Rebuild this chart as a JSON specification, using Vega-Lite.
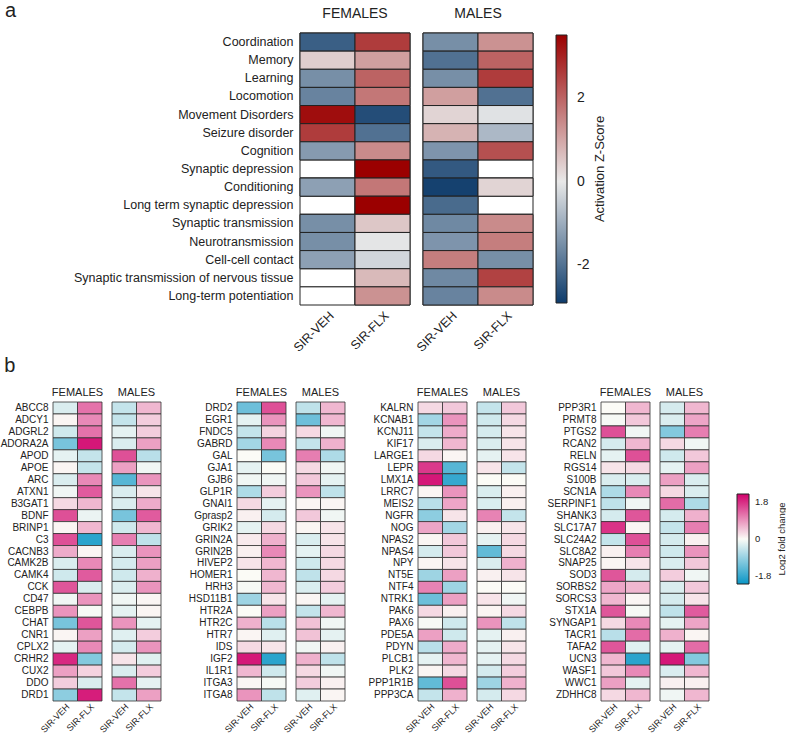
{
  "$schema": "https://vega.github.io/schema/vega-lite/v6.json",
  "padding": {"left": 0, "top": 0, "right": 0, "bottom": 0},
  "config": {
    "font": "Liberation Sans",
    "view": {"stroke": null},
    "axis": {"domain": false, "ticks": false, "grid": false, "labelColor": "#222"},
    "title": {"color": "#222", "fontWeight": "normal"},
    "legend": {"labelColor": "#222", "titleColor": "#222"}
  },
  "datasets": {
    "fn": [
      {"fn": "Coordination", "fVEH": -2.3, "fFLX": 2.6, "mVEH": -1.5, "mFLX": 1.3},
      {"fn": "Memory", "fVEH": 0.4, "fFLX": 1.1, "mVEH": -2.0, "mFLX": 2.0},
      {"fn": "Learning", "fVEH": -1.5, "fFLX": 2.0, "mVEH": -1.5, "mFLX": 2.6},
      {"fn": "Locomotion", "fVEH": -1.7, "fFLX": 1.7, "mVEH": 1.1, "mFLX": -2.0},
      {"fn": "Movement Disorders", "fVEH": 3.3, "fFLX": -2.6, "mVEH": 0.3, "mFLX": -0.1},
      {"fn": "Seizure disorder", "fVEH": 2.6, "fFLX": -2.0, "mVEH": 0.8, "mFLX": -0.8},
      {"fn": "Cognition", "fVEH": -1.3, "fFLX": 1.4, "mVEH": -1.4, "mFLX": 2.3},
      {"fn": "Synaptic depression", "fVEH": null, "fFLX": 3.5, "mVEH": -2.4, "mFLX": null},
      {"fn": "Conditioning", "fVEH": -1.2, "fFLX": 1.7, "mVEH": -2.8, "mFLX": 0.3},
      {"fn": "Long term synaptic depression", "fVEH": null, "fFLX": 3.5, "mVEH": -2.1, "mFLX": null},
      {"fn": "Synaptic transmission", "fVEH": -1.5, "fFLX": 0.5, "mVEH": -1.6, "mFLX": 1.4},
      {"fn": "Neurotransmission", "fVEH": -1.5, "fFLX": -0.05, "mVEH": -1.4, "mFLX": 1.6},
      {"fn": "Cell-cell contact", "fVEH": -1.2, "fFLX": -0.3, "mVEH": 1.6, "mFLX": -1.5},
      {"fn": "Synaptic transmission of nervous tissue", "fVEH": null, "fFLX": 0.7, "mVEH": -1.6, "mFLX": 2.5},
      {"fn": "Long-term potentiation", "fVEH": null, "fFLX": 1.3, "mVEH": -1.7, "mFLX": 1.4}
    ],
    "genes": [
      {"gene": "ABCC8", "blk": 1, "fVEH": -0.3, "fFLX": 1.2, "mVEH": -0.5, "mFLX": 0.6},
      {"gene": "ADCY1", "blk": 1, "fVEH": 0.05, "fFLX": 1.0, "mVEH": -0.5, "mFLX": 0.4},
      {"gene": "ADGRL2", "blk": 1, "fVEH": -0.4, "fFLX": 1.2, "mVEH": -0.2, "mFLX": 0.4},
      {"gene": "ADORA2A", "blk": 1, "fVEH": -1.2, "fFLX": 2.0, "mVEH": -0.3, "mFLX": 0.8},
      {"gene": "APOD", "blk": 1, "fVEH": -0.2, "fFLX": -0.5, "mVEH": 1.5, "mFLX": -0.6},
      {"gene": "APOE", "blk": 1, "fVEH": 0.05, "fFLX": -0.5, "mVEH": 0.8, "mFLX": -0.1},
      {"gene": "ARC", "blk": 1, "fVEH": -0.3, "fFLX": 1.0, "mVEH": -1.5, "mFLX": 0.9},
      {"gene": "ATXN1", "blk": 1, "fVEH": -0.1, "fFLX": 1.4, "mVEH": -0.3, "mFLX": 0.2},
      {"gene": "B3GAT1", "blk": 1, "fVEH": 0.3, "fFLX": 0.6, "mVEH": -0.3, "mFLX": 0.7},
      {"gene": "BDNF", "blk": 1, "fVEH": 1.5, "fFLX": -0.15, "mVEH": -1.2, "mFLX": 1.4},
      {"gene": "BRINP1", "blk": 1, "fVEH": 0.05, "fFLX": 0.6, "mVEH": -0.4, "mFLX": 0.6},
      {"gene": "C3", "blk": 1, "fVEH": 1.5, "fFLX": -1.9, "mVEH": 1.1, "mFLX": -0.55},
      {"gene": "CACNB3", "blk": 1, "fVEH": 0.7, "fFLX": 0.05, "mVEH": -0.3, "mFLX": 0.9},
      {"gene": "CAMK2B", "blk": 1, "fVEH": -0.3, "fFLX": 1.0, "mVEH": -0.35, "mFLX": 0.8},
      {"gene": "CAMK4", "blk": 1, "fVEH": -0.4, "fFLX": 1.4, "mVEH": -0.4, "mFLX": 0.65},
      {"gene": "CCK", "blk": 1, "fVEH": 1.45, "fFLX": -0.3, "mVEH": -0.3, "mFLX": 0.9},
      {"gene": "CD47", "blk": 1, "fVEH": -0.1, "fFLX": 0.9, "mVEH": -0.1, "mFLX": 0.05},
      {"gene": "CEBPB", "blk": 1, "fVEH": 0.9, "fFLX": -0.05, "mVEH": -0.2, "mFLX": 0.05},
      {"gene": "CHAT", "blk": 1, "fVEH": -1.2, "fFLX": 1.45, "mVEH": 0.9, "mFLX": -0.2},
      {"gene": "CNR1", "blk": 1, "fVEH": 0.05, "fFLX": 0.8, "mVEH": -0.25, "mFLX": 0.4},
      {"gene": "CPLX2", "blk": 1, "fVEH": -0.2, "fFLX": 1.0, "mVEH": -0.35, "mFLX": 0.9},
      {"gene": "CRHR2", "blk": 1, "fVEH": 1.85, "fFLX": -1.1, "mVEH": 0.2, "mFLX": -0.25},
      {"gene": "CUX2", "blk": 1, "fVEH": 0.8, "fFLX": 0.35, "mVEH": -0.3, "mFLX": 0.4},
      {"gene": "DDO", "blk": 1, "fVEH": 0.4, "fFLX": -0.3, "mVEH": 1.2, "mFLX": -0.2},
      {"gene": "DRD1", "blk": 1, "fVEH": -1.0, "fFLX": 1.95, "mVEH": -0.5, "mFLX": 0.8},
      {"gene": "DRD2", "blk": 2, "fVEH": -1.3, "fFLX": 1.5, "mVEH": -0.55, "mFLX": 0.6},
      {"gene": "EGR1", "blk": 2, "fVEH": -0.2, "fFLX": 0.9, "mVEH": -1.3, "mFLX": 0.6},
      {"gene": "FNDC5", "blk": 2, "fVEH": -0.5, "fFLX": 0.35, "mVEH": 0.3, "mFLX": -0.1},
      {"gene": "GABRD", "blk": 2, "fVEH": -0.8, "fFLX": 1.0, "mVEH": -0.5, "mFLX": 0.65},
      {"gene": "GAL", "blk": 2, "fVEH": 0.0, "fFLX": -1.2, "mVEH": 1.1, "mFLX": -0.7},
      {"gene": "GJA1", "blk": 2, "fVEH": -0.2, "fFLX": 0.0, "mVEH": 0.3, "mFLX": -0.1},
      {"gene": "GJB6", "blk": 2, "fVEH": -0.1, "fFLX": -0.1, "mVEH": 0.45, "mFLX": -0.2},
      {"gene": "GLP1R", "blk": 2, "fVEH": -0.7, "fFLX": 0.4, "mVEH": 0.9, "mFLX": -0.55},
      {"gene": "GNAI1", "blk": 2, "fVEH": 0.3, "fFLX": -0.2, "mVEH": 0.05, "mFLX": 0.05},
      {"gene": "Gprasp2", "blk": 2, "fVEH": 0.1, "fFLX": -0.35, "mVEH": 0.45, "mFLX": -0.1},
      {"gene": "GRIK2", "blk": 2, "fVEH": -0.2, "fFLX": 0.3, "mVEH": 0.05, "mFLX": 0.2},
      {"gene": "GRIN2A", "blk": 2, "fVEH": 0.15, "fFLX": 0.65, "mVEH": -0.3, "mFLX": 0.2},
      {"gene": "GRIN2B", "blk": 2, "fVEH": 0.1, "fFLX": 1.0, "mVEH": -0.2, "mFLX": 0.3},
      {"gene": "HIVEP2", "blk": 2, "fVEH": 0.2, "fFLX": 0.6, "mVEH": -0.4, "mFLX": 0.3},
      {"gene": "HOMER1", "blk": 2, "fVEH": 0.0, "fFLX": 0.6, "mVEH": -0.55, "mFLX": 0.3},
      {"gene": "HRH3", "blk": 2, "fVEH": -0.05, "fFLX": 0.6, "mVEH": -0.3, "mFLX": 0.4},
      {"gene": "HSD11B1", "blk": 2, "fVEH": -0.85, "fFLX": 0.2, "mVEH": 0.05, "mFLX": -0.2},
      {"gene": "HTR2A", "blk": 2, "fVEH": 0.0, "fFLX": 0.8, "mVEH": -0.5, "mFLX": 0.6},
      {"gene": "HTR2C", "blk": 2, "fVEH": 0.65, "fFLX": -0.6, "mVEH": 0.5, "mFLX": -0.1},
      {"gene": "HTR7", "blk": 2, "fVEH": 0.05, "fFLX": -0.25, "mVEH": 0.5, "mFLX": -0.2},
      {"gene": "IDS", "blk": 2, "fVEH": 0.3, "fFLX": 0.2, "mVEH": -0.1, "mFLX": 0.1},
      {"gene": "IGF2", "blk": 2, "fVEH": 2.0, "fFLX": -1.9, "mVEH": 0.65, "mFLX": -0.55},
      {"gene": "IL1R1", "blk": 2, "fVEH": 0.6, "fFLX": -0.4, "mVEH": 0.3, "mFLX": -0.1},
      {"gene": "ITGA3", "blk": 2, "fVEH": 0.05, "fFLX": -0.05, "mVEH": 0.4, "mFLX": 0.1},
      {"gene": "ITGA8", "blk": 2, "fVEH": 0.9, "fFLX": -0.55, "mVEH": -0.25, "mFLX": 0.05},
      {"gene": "KALRN", "blk": 3, "fVEH": 0.3, "fFLX": 0.45, "mVEH": -0.5, "mFLX": 0.45},
      {"gene": "KCNAB1", "blk": 3, "fVEH": -0.8, "fFLX": 0.9, "mVEH": -0.4, "mFLX": 0.3},
      {"gene": "KCNJ11", "blk": 3, "fVEH": -0.5, "fFLX": 0.7, "mVEH": -0.35, "mFLX": 0.2},
      {"gene": "KIF17", "blk": 3, "fVEH": -0.3, "fFLX": 0.6, "mVEH": -0.3, "mFLX": 0.2},
      {"gene": "LARGE1", "blk": 3, "fVEH": 0.3, "fFLX": 0.05, "mVEH": -0.2, "mFLX": 0.2},
      {"gene": "LEPR", "blk": 3, "fVEH": 1.7, "fFLX": -1.5, "mVEH": 0.2, "mFLX": -0.5},
      {"gene": "LMX1A", "blk": 3, "fVEH": 2.0, "fFLX": -1.8, "mVEH": 0.0, "mFLX": 0.0},
      {"gene": "LRRC7", "blk": 3, "fVEH": 0.05, "fFLX": 0.9, "mVEH": -0.3, "mFLX": 0.1},
      {"gene": "MEIS2", "blk": 3, "fVEH": -0.6, "fFLX": 0.75, "mVEH": -0.3, "mFLX": 0.1},
      {"gene": "NGFR", "blk": 3, "fVEH": -1.0, "fFLX": 0.2, "mVEH": 1.05, "mFLX": -0.5},
      {"gene": "NOG", "blk": 3, "fVEH": 0.75, "fFLX": -0.8, "mVEH": 0.1, "mFLX": 0.2},
      {"gene": "NPAS2", "blk": 3, "fVEH": 0.05, "fFLX": 0.45, "mVEH": -0.2, "mFLX": 0.3},
      {"gene": "NPAS4", "blk": 3, "fVEH": -0.35, "fFLX": 0.45, "mVEH": -1.4, "mFLX": 0.3},
      {"gene": "NPY", "blk": 3, "fVEH": 0.05, "fFLX": 0.2, "mVEH": -0.3, "mFLX": 0.65},
      {"gene": "NT5E", "blk": 3, "fVEH": -0.85, "fFLX": 0.8, "mVEH": 0.1, "mFLX": 0.2},
      {"gene": "NTF4", "blk": 3, "fVEH": 1.05, "fFLX": -0.85, "mVEH": 0.0, "mFLX": 0.0},
      {"gene": "NTRK1", "blk": 3, "fVEH": -1.3, "fFLX": 0.8, "mVEH": 0.2, "mFLX": -0.1},
      {"gene": "PAK6", "blk": 3, "fVEH": 0.3, "fFLX": 0.1, "mVEH": 0.05, "mFLX": 0.3},
      {"gene": "PAX6", "blk": 3, "fVEH": -0.05, "fFLX": -0.4, "mVEH": 0.9, "mFLX": -0.55},
      {"gene": "PDE5A", "blk": 3, "fVEH": 0.8, "fFLX": -0.4, "mVEH": -0.2, "mFLX": 0.1},
      {"gene": "PDYN", "blk": 3, "fVEH": -0.6, "fFLX": 0.7, "mVEH": -0.2, "mFLX": 0.2},
      {"gene": "PLCB1", "blk": 3, "fVEH": -0.2, "fFLX": 0.6, "mVEH": -0.2, "mFLX": 0.3},
      {"gene": "PLK2", "blk": 3, "fVEH": 0.05, "fFLX": 0.3, "mVEH": -0.35, "mFLX": 0.4},
      {"gene": "PPP1R1B", "blk": 3, "fVEH": -1.4, "fFLX": 1.5, "mVEH": -0.85, "mFLX": 0.65},
      {"gene": "PPP3CA", "blk": 3, "fVEH": -0.5, "fFLX": 0.65, "mVEH": -0.35, "mFLX": 0.3},
      {"gene": "PPP3R1", "blk": 4, "fVEH": 0.0, "fFLX": 0.6, "mVEH": -0.35, "mFLX": 0.6},
      {"gene": "PRMT8", "blk": 4, "fVEH": -0.05, "fFLX": 0.45, "mVEH": -0.3, "mFLX": 0.75},
      {"gene": "PTGS2", "blk": 4, "fVEH": 1.5, "fFLX": -0.1, "mVEH": -1.1, "mFLX": 1.1},
      {"gene": "RCAN2", "blk": 4, "fVEH": -0.35, "fFLX": 0.6, "mVEH": 0.3, "mFLX": -0.1},
      {"gene": "RELN", "blk": 4, "fVEH": -0.2, "fFLX": 1.5, "mVEH": -0.4, "mFLX": 0.45},
      {"gene": "RGS14", "blk": 4, "fVEH": 0.2, "fFLX": 0.3, "mVEH": -0.2, "mFLX": 0.8},
      {"gene": "S100B", "blk": 4, "fVEH": -0.3, "fFLX": -0.3, "mVEH": 0.8, "mFLX": -0.3},
      {"gene": "SCN1A", "blk": 4, "fVEH": -0.7, "fFLX": 1.0, "mVEH": 0.3, "mFLX": -0.3},
      {"gene": "SERPINF1", "blk": 4, "fVEH": -0.55, "fFLX": -0.1, "mVEH": 1.25, "mFLX": -0.7},
      {"gene": "SHANK3", "blk": 4, "fVEH": -0.35, "fFLX": 1.45, "mVEH": -0.35, "mFLX": 0.65},
      {"gene": "SLC17A7", "blk": 4, "fVEH": 1.75, "fFLX": 0.05, "mVEH": -0.5, "mFLX": 1.1},
      {"gene": "SLC24A2", "blk": 4, "fVEH": -0.5, "fFLX": 1.5, "mVEH": -0.35, "mFLX": 0.1},
      {"gene": "SLC8A2", "blk": 4, "fVEH": 0.1, "fFLX": 1.1, "mVEH": -0.4, "mFLX": 0.9},
      {"gene": "SNAP25", "blk": 4, "fVEH": 0.05, "fFLX": 0.2, "mVEH": -0.3, "mFLX": 0.45},
      {"gene": "SOD3", "blk": 4, "fVEH": 1.45, "fFLX": -0.35, "mVEH": 0.4, "mFLX": -0.1},
      {"gene": "SORBS2", "blk": 4, "fVEH": 0.75, "fFLX": 0.6, "mVEH": -0.3, "mFLX": 0.45},
      {"gene": "SORCS3", "blk": 4, "fVEH": 0.6, "fFLX": 0.05, "mVEH": -0.35, "mFLX": 0.2},
      {"gene": "STX1A", "blk": 4, "fVEH": 1.45, "fFLX": -0.05, "mVEH": -0.55, "mFLX": 1.4},
      {"gene": "SYNGAP1", "blk": 4, "fVEH": 0.3, "fFLX": 1.0, "mVEH": -0.2, "mFLX": 0.75},
      {"gene": "TACR1", "blk": 4, "fVEH": -0.6, "fFLX": 1.25, "mVEH": 0.65, "mFLX": 0.05},
      {"gene": "TAFA2", "blk": 4, "fVEH": 1.45, "fFLX": -0.25, "mVEH": -0.2, "mFLX": 1.25},
      {"gene": "UCN3", "blk": 4, "fVEH": 0.6, "fFLX": -1.9, "mVEH": 2.0, "mFLX": -1.1},
      {"gene": "WASF1", "blk": 4, "fVEH": 0.45, "fFLX": 1.0, "mVEH": -0.3, "mFLX": 0.6},
      {"gene": "WWC1", "blk": 4, "fVEH": 0.8, "fFLX": -0.2, "mVEH": 0.1, "mFLX": 0.1},
      {"gene": "ZDHHC8", "blk": 4, "fVEH": 0.3, "fFLX": 0.6, "mVEH": -0.1, "mFLX": 0.6}
    ]
  },
  "resolve": {"scale": {"color": "independent"}},
  "spacing": 1,
  "align": "none",
  "vconcat": [
    {
      "title": {"text": "a", "anchor": "start", "frame": "group", "fontSize": 20, "offset": -14, "dx": -48},
      "bounds": "flush",
      "spacing": 13,
      "hconcat": [
        {"width": 234, "height": 272, "data": {"values": []}, "mark": "rect", "encoding": {}},
        {
          "title": {"text": "FEMALES", "fontSize": 14, "offset": 12},
          "width": 110, "height": 272,
          "data": {"name": "fn"},
          "transform": [{"fold": ["fVEH", "fFLX"], "as": ["cond", "z"]}],
          "encoding": {
            "x": {"field": "cond", "type": "nominal", "sort": ["fVEH", "fFLX"], "axis": {"title": null, "labelAngle": -45, "labelFontSize": 12.5, "labelPadding": 4, "labelExpr": "indexof(datum.label, 'VEH') >= 0 ? 'SIR-VEH' : 'SIR-FLX'"}},
            "y": {"field": "fn", "type": "nominal", "sort": null, "axis": {"title": null, "labelFontSize": 12.5, "labelPadding": 7, "labelLimit": 400}}
          },
          "layer": [
            {"mark": {"type": "rect", "fill": "#ffffff", "stroke": "#222", "strokeWidth": 1}},
            {"mark": {"type": "rect", "stroke": "#222", "strokeWidth": 1},
             "encoding": {"color": {"field": "z", "type": "quantitative",
               "scale": {"domain": [-2.9, 0, 3.5], "range": ["#0d3b6b", "#e8e8e8", "#9b0000"], "interpolate": "rgb"},
               "legend": {"orient": "none", "legendX": 503, "legendY": 2, "direction": "vertical", "gradientLength": 268, "gradientThickness": 11, "values": [-2, 0, 2], "labelExpr": "(datum.value < 0 ? '-' : '') + abs(datum.value)", "title": "Activation Z-Score", "titleOrient": "right", "titleAnchor": "middle", "titleFontSize": 13, "titleFontWeight": "normal", "titlePadding": 18, "labelFontSize": 14, "labelOffset": 10, "gradientStrokeColor": "#222", "gradientStrokeWidth": 1, "encode": {"title": {"update": {"angle": {"value": -90}}}}}}}}
          ]
        },
        {
          "title": {"text": "MALES", "fontSize": 14, "offset": 12},
          "width": 110, "height": 272,
          "data": {"name": "fn"},
          "transform": [{"fold": ["mVEH", "mFLX"], "as": ["cond", "z"]}],
          "encoding": {
            "x": {"field": "cond", "type": "nominal", "sort": ["mVEH", "mFLX"], "axis": {"title": null, "labelAngle": -45, "labelFontSize": 12.5, "labelPadding": 4, "labelExpr": "indexof(datum.label, 'VEH') >= 0 ? 'SIR-VEH' : 'SIR-FLX'"}},
            "y": {"field": "fn", "type": "nominal", "sort": null, "axis": null}
          },
          "layer": [
            {"mark": {"type": "rect", "fill": "#ffffff", "stroke": "#222", "strokeWidth": 1}},
            {"mark": {"type": "rect", "stroke": "#222", "strokeWidth": 1},
             "encoding": {"color": {"field": "z", "type": "quantitative",
               "scale": {"domain": [-2.9, 0, 3.5], "range": ["#0d3b6b", "#e8e8e8", "#9b0000"], "interpolate": "rgb"}}}}
          ]
        }
      ]
    },
    {
      "title": {"text": "b", "anchor": "start", "frame": "bounds", "fontSize": 20, "offset": 11, "dx": 4},
      "bounds": "flush",
      "spacing": 10,
      "hconcat": [
        {
          "title": {"text": "FEMALES", "fontSize": 11, "offset": 4},
          "width": 49, "height": 299,
          "data": {"name": "genes"},
          "transform": [{"filter": "datum.blk === 1"}, {"fold": ["fVEH", "fFLX"], "as": ["cond", "lfc"]}],
          "mark": {"type": "rect", "stroke": "#333", "strokeWidth": 0.8},
          "encoding": {
            "x": {"field": "cond", "type": "nominal", "sort": ["fVEH", "fFLX"], "axis": {"title": null, "labelAngle": -45, "labelFontSize": 9, "labelPadding": 1, "labelExpr": "indexof(datum.label, 'VEH') >= 0 ? 'SIR-VEH' : 'SIR-FLX'"}},
            "y": {"field": "gene", "type": "nominal", "sort": null, "axis": {"title": null, "labelFontSize": 10, "labelPadding": 5}},
            "color": {"field": "lfc", "type": "quantitative", "scale": {"domain": [-2.2, 0, 2.2], "range": ["#0a96c6", "#fbfbf6", "#d1006b"], "interpolate": "rgb"},
              "legend": {"orient": "none", "legendX": 684, "legendY": 92, "direction": "vertical", "gradientLength": 90, "gradientThickness": 12, "values": [-1.8, 0, 1.8], "labelExpr": "(datum.value < 0 ? '-' : '') + abs(datum.value)", "title": "Log2 fold change", "titleOrient": "right", "titleAnchor": "middle", "titleFontSize": 9.5, "titleFontWeight": "normal", "titlePadding": 16, "labelFontSize": 9.5, "labelOffset": 6, "gradientStrokeColor": "#222", "gradientStrokeWidth": 1, "encode": {"title": {"update": {"angle": {"value": -90}}}}}}
          }
        },
        {
          "title": {"text": "MALES", "fontSize": 11, "offset": 4},
          "width": 49, "height": 299,
          "data": {"name": "genes"},
          "transform": [{"filter": "datum.blk === 1"}, {"fold": ["mVEH", "mFLX"], "as": ["cond", "lfc"]}],
          "mark": {"type": "rect", "stroke": "#333", "strokeWidth": 0.8},
          "encoding": {
            "x": {"field": "cond", "type": "nominal", "sort": ["mVEH", "mFLX"], "axis": {"title": null, "labelAngle": -45, "labelFontSize": 9, "labelPadding": 1, "labelExpr": "indexof(datum.label, 'VEH') >= 0 ? 'SIR-VEH' : 'SIR-FLX'"}},
            "y": {"field": "gene", "type": "nominal", "sort": null, "axis": null},
            "color": {"field": "lfc", "type": "quantitative", "scale": {"domain": [-2.2, 0, 2.2], "range": ["#0a96c6", "#fbfbf6", "#d1006b"], "interpolate": "rgb"}}
          }
        },
        {"width": 56, "height": 299, "data": {"values": []}, "mark": "rect", "encoding": {}},
        {
          "title": {"text": "FEMALES", "fontSize": 11, "offset": 4},
          "width": 49, "height": 299,
          "data": {"name": "genes"},
          "transform": [{"filter": "datum.blk === 2"}, {"fold": ["fVEH", "fFLX"], "as": ["cond", "lfc"]}],
          "mark": {"type": "rect", "stroke": "#333", "strokeWidth": 0.8},
          "encoding": {
            "x": {"field": "cond", "type": "nominal", "sort": ["fVEH", "fFLX"], "axis": {"title": null, "labelAngle": -45, "labelFontSize": 9, "labelPadding": 1, "labelExpr": "indexof(datum.label, 'VEH') >= 0 ? 'SIR-VEH' : 'SIR-FLX'"}},
            "y": {"field": "gene", "type": "nominal", "sort": null, "axis": {"title": null, "labelFontSize": 10, "labelPadding": 5}},
            "color": {"field": "lfc", "type": "quantitative", "scale": {"domain": [-2.2, 0, 2.2], "range": ["#0a96c6", "#fbfbf6", "#d1006b"], "interpolate": "rgb"}}
          }
        },
        {
          "title": {"text": "MALES", "fontSize": 11, "offset": 4},
          "width": 49, "height": 299,
          "data": {"name": "genes"},
          "transform": [{"filter": "datum.blk === 2"}, {"fold": ["mVEH", "mFLX"], "as": ["cond", "lfc"]}],
          "mark": {"type": "rect", "stroke": "#333", "strokeWidth": 0.8},
          "encoding": {
            "x": {"field": "cond", "type": "nominal", "sort": ["mVEH", "mFLX"], "axis": {"title": null, "labelAngle": -45, "labelFontSize": 9, "labelPadding": 1, "labelExpr": "indexof(datum.label, 'VEH') >= 0 ? 'SIR-VEH' : 'SIR-FLX'"}},
            "y": {"field": "gene", "type": "nominal", "sort": null, "axis": null},
            "color": {"field": "lfc", "type": "quantitative", "scale": {"domain": [-2.2, 0, 2.2], "range": ["#0a96c6", "#fbfbf6", "#d1006b"], "interpolate": "rgb"}}
          }
        },
        {"width": 53, "height": 299, "data": {"values": []}, "mark": "rect", "encoding": {}},
        {
          "title": {"text": "FEMALES", "fontSize": 11, "offset": 4},
          "width": 49, "height": 299,
          "data": {"name": "genes"},
          "transform": [{"filter": "datum.blk === 3"}, {"fold": ["fVEH", "fFLX"], "as": ["cond", "lfc"]}],
          "mark": {"type": "rect", "stroke": "#333", "strokeWidth": 0.8},
          "encoding": {
            "x": {"field": "cond", "type": "nominal", "sort": ["fVEH", "fFLX"], "axis": {"title": null, "labelAngle": -45, "labelFontSize": 9, "labelPadding": 1, "labelExpr": "indexof(datum.label, 'VEH') >= 0 ? 'SIR-VEH' : 'SIR-FLX'"}},
            "y": {"field": "gene", "type": "nominal", "sort": null, "axis": {"title": null, "labelFontSize": 10, "labelPadding": 5}},
            "color": {"field": "lfc", "type": "quantitative", "scale": {"domain": [-2.2, 0, 2.2], "range": ["#0a96c6", "#fbfbf6", "#d1006b"], "interpolate": "rgb"}}
          }
        },
        {
          "title": {"text": "MALES", "fontSize": 11, "offset": 4},
          "width": 49, "height": 299,
          "data": {"name": "genes"},
          "transform": [{"filter": "datum.blk === 3"}, {"fold": ["mVEH", "mFLX"], "as": ["cond", "lfc"]}],
          "mark": {"type": "rect", "stroke": "#333", "strokeWidth": 0.8},
          "encoding": {
            "x": {"field": "cond", "type": "nominal", "sort": ["mVEH", "mFLX"], "axis": {"title": null, "labelAngle": -45, "labelFontSize": 9, "labelPadding": 1, "labelExpr": "indexof(datum.label, 'VEH') >= 0 ? 'SIR-VEH' : 'SIR-FLX'"}},
            "y": {"field": "gene", "type": "nominal", "sort": null, "axis": null},
            "color": {"field": "lfc", "type": "quantitative", "scale": {"domain": [-2.2, 0, 2.2], "range": ["#0a96c6", "#fbfbf6", "#d1006b"], "interpolate": "rgb"}}
          }
        },
        {"width": 55, "height": 299, "data": {"values": []}, "mark": "rect", "encoding": {}},
        {
          "title": {"text": "FEMALES", "fontSize": 11, "offset": 4},
          "width": 49, "height": 299,
          "data": {"name": "genes"},
          "transform": [{"filter": "datum.blk === 4"}, {"fold": ["fVEH", "fFLX"], "as": ["cond", "lfc"]}],
          "mark": {"type": "rect", "stroke": "#333", "strokeWidth": 0.8},
          "encoding": {
            "x": {"field": "cond", "type": "nominal", "sort": ["fVEH", "fFLX"], "axis": {"title": null, "labelAngle": -45, "labelFontSize": 9, "labelPadding": 1, "labelExpr": "indexof(datum.label, 'VEH') >= 0 ? 'SIR-VEH' : 'SIR-FLX'"}},
            "y": {"field": "gene", "type": "nominal", "sort": null, "axis": {"title": null, "labelFontSize": 10, "labelPadding": 5}},
            "color": {"field": "lfc", "type": "quantitative", "scale": {"domain": [-2.2, 0, 2.2], "range": ["#0a96c6", "#fbfbf6", "#d1006b"], "interpolate": "rgb"}}
          }
        },
        {
          "title": {"text": "MALES", "fontSize": 11, "offset": 4},
          "width": 49, "height": 299,
          "data": {"name": "genes"},
          "transform": [{"filter": "datum.blk === 4"}, {"fold": ["mVEH", "mFLX"], "as": ["cond", "lfc"]}],
          "mark": {"type": "rect", "stroke": "#333", "strokeWidth": 0.8},
          "encoding": {
            "x": {"field": "cond", "type": "nominal", "sort": ["mVEH", "mFLX"], "axis": {"title": null, "labelAngle": -45, "labelFontSize": 9, "labelPadding": 1, "labelExpr": "indexof(datum.label, 'VEH') >= 0 ? 'SIR-VEH' : 'SIR-FLX'"}},
            "y": {"field": "gene", "type": "nominal", "sort": null, "axis": null},
            "color": {"field": "lfc", "type": "quantitative", "scale": {"domain": [-2.2, 0, 2.2], "range": ["#0a96c6", "#fbfbf6", "#d1006b"], "interpolate": "rgb"}}
          }
        }
      ]
    }
  ]
}
